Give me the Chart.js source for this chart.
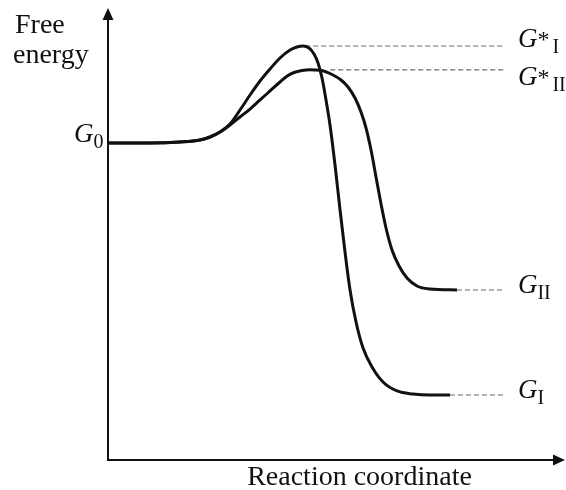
<!DOCTYPE html>
<html>
<head>
<meta charset="utf-8">
<script src="https://cdn.jsdelivr.net/npm/chart.js@4/dist/chart.umd.min.js"></script>
<style>
  html, body { margin: 0; padding: 0; background: #fff; }
</style>
</head>
<body>
<canvas id="chart" width="566" height="490"></canvas>
<script>
// reaction path I (higher barrier, deep product)
const coordI  = [0, 9.38, 16.07, 20.54, 22.77, 25.0, 27.23, 29.46, 31.7, 33.93, 36.16, 38.39, 40.63, 42.19, 43.53, 44.87, 45.98, 46.88, 47.77, 48.66, 49.55, 50.67, 51.79, 52.9, 54.02, 55.36, 56.92, 58.93, 61.38, 64.51, 68.08, 71.88, 76.34];
const energyI = [70.13, 70.13, 70.35, 70.8, 71.46, 72.57, 74.34, 77.43, 80.75, 83.85, 86.5, 88.94, 90.71, 91.37, 91.59, 91.15, 89.82, 87.83, 84.51, 79.65, 74.12, 65.27, 55.31, 46.02, 37.61, 30.53, 24.78, 20.58, 17.26, 15.27, 14.6, 14.38, 14.38];
// reaction path II (lower barrier, shallower product)
const coordII  = [0, 9.38, 16.07, 20.54, 22.77, 25.0, 27.23, 29.46, 31.7, 33.93, 36.16, 38.39, 40.0, 41.52, 43.3, 45.09, 47.32, 50.22, 52.01, 53.57, 55.13, 56.47, 57.59, 58.71, 59.82, 60.94, 62.05, 63.39, 64.96, 66.74, 68.97, 71.88, 77.9];
const energyII = [70.13, 70.13, 70.35, 70.8, 71.46, 72.57, 74.12, 75.88, 77.65, 79.65, 81.64, 83.63, 84.96, 85.73, 86.17, 86.33, 86.22, 85.18, 84.07, 82.52, 80.09, 76.99, 73.45, 68.58, 62.61, 56.64, 51.33, 46.46, 42.92, 40.27, 38.5, 37.83, 37.61];

// energy levels marked on the right / left
const levelG0 = 70.13;
const levelTSI = 91.59, levelTSII = 86.33;
const levelGI = 14.38, levelGII = 37.61;
const guideStart = [44.0, 49.6, 76.34, 77.9]; // TS I, TS II, G I, G II
const guideEnd = 88.6;
const labelX = 91.5;

const xy = (xs, ys) => xs.map((x, i) => ({ x: x, y: ys[i] }));
const guide = (x0, y) => ({
  data: [{ x: x0, y: y }, { x: guideEnd, y: y }],
  borderColor: '#6b6b6b',
  borderWidth: 1.2,
  borderDash: [5, 3],
  pointRadius: 0,
  tension: 0,
});

const axesAndLabels = {
  id: 'axesAndLabels',
  afterDraw(chart) {
    const { ctx, chartArea: a, scales } = chart;
    const xs = scales.x, ys = scales.y;
    ctx.save();
    ctx.strokeStyle = '#111';
    ctx.fillStyle = '#111';
    ctx.lineWidth = 2;
    ctx.beginPath();
    ctx.moveTo(a.left, a.top + 10);
    ctx.lineTo(a.left, a.bottom);
    ctx.lineTo(a.right - 10, a.bottom);
    ctx.stroke();
    // arrow heads
    ctx.beginPath();
    ctx.moveTo(a.left, a.top);
    ctx.lineTo(a.left - 5.5, a.top + 12);
    ctx.lineTo(a.left + 5.5, a.top + 12);
    ctx.closePath();
    ctx.fill();
    ctx.beginPath();
    ctx.moveTo(a.right, a.bottom);
    ctx.lineTo(a.right - 12, a.bottom - 5.5);
    ctx.lineTo(a.right - 12, a.bottom + 5.5);
    ctx.closePath();
    ctx.fill();

    const serif = '"Liberation Serif", "DejaVu Serif", serif';
    ctx.textBaseline = 'alphabetic';
    ctx.font = '28px ' + serif;
    ctx.textAlign = 'left';
    ctx.fillText('Free', 15, 33);
    ctx.fillText('energy', 13, 63);
    ctx.textAlign = 'center';
    ctx.fillText('Reaction coordinate', (a.left + a.right) / 2 + 23, a.bottom + 25);

    const label = (x, base, star, sub) => {
      ctx.textAlign = 'left';
      ctx.font = 'italic 27px ' + serif;
      ctx.fillText('G', x, base);
      let cx = x + ctx.measureText('G').width;
      if (star) {
        ctx.font = '24px ' + serif;
        ctx.fillText('*', cx, base);
        cx += ctx.measureText('*').width + 3;
      }
      ctx.font = '20px ' + serif;
      ctx.fillText(sub, cx, base + 6);
    };
    const rx = xs.getPixelForValue(labelX);
    label(rx, ys.getPixelForValue(levelTSI) + 1, true, 'I');
    label(rx, ys.getPixelForValue(levelTSII) + 15, true, 'II');
    label(rx, ys.getPixelForValue(levelGII) + 3, false, 'II');
    label(rx, ys.getPixelForValue(levelGI) + 3, false, 'I');
    label(a.left - 34, ys.getPixelForValue(levelG0) - 1, false, '0');
    ctx.restore();
  }
};

new Chart(document.getElementById('chart'), {
  type: 'line',
  data: {
    datasets: [
      { data: xy(coordI, energyI), borderColor: '#111', borderWidth: 3, pointRadius: 0, cubicInterpolationMode: 'monotone' },
      { data: xy(coordII, energyII), borderColor: '#111', borderWidth: 3, pointRadius: 0, cubicInterpolationMode: 'monotone' },
      guide(guideStart[0], levelTSI),
      guide(guideStart[1], levelTSII),
      guide(guideStart[2], levelGI),
      guide(guideStart[3], levelGII),
    ],
  },
  options: {
    responsive: false,
    animation: false,
    layout: { padding: { left: 108, right: 1, top: 8, bottom: 30 } },
    plugins: { legend: { display: false }, tooltip: { enabled: false } },
    scales: {
      x: { type: 'linear', min: 0, max: 102, display: false },
      y: { type: 'linear', min: 0, max: 100, display: false },
    },
  },
  plugins: [axesAndLabels],
});
</script>
</body>
</html>
